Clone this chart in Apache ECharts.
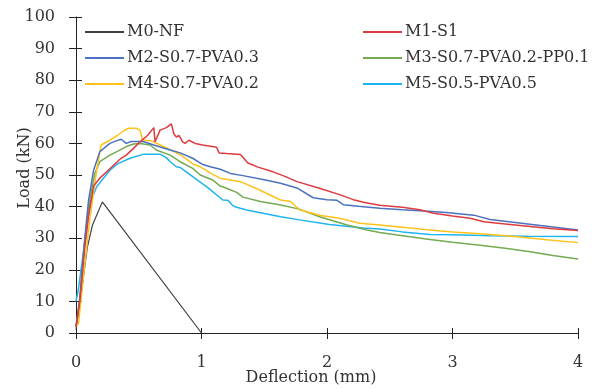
<!DOCTYPE html>
<html>
<head>
<meta charset="utf-8">
<script src="https://cdn.jsdelivr.net/npm/echarts@6/dist/echarts.min.js"></script>
<style>html,body{margin:0;padding:0;background:#fff}#c{width:611px;height:389px}</style>
</head>
<body>
<div id="c"></div>
<script>
const seriesNames = ["M0-NF","M1-S1","M2-S0.7-PVA0.3","M3-S0.7-PVA0.2-PP0.1","M4-S0.7-PVA0.2","M5-S0.5-PVA0.5"];
const xTicks = [0,1,2,3,4];
const yTicks = [0,10,20,30,40,50,60,70,80,90,100];

const M0 = [[0,1],[0.04,12],[0.09,27],[0.13,34],[0.21,41.5],[1.0,0]];
const M1 = [[0,2],[0.03,10],[0.07,27],[0.1,37],[0.14,46.5],[0.19,49],[0.27,52],[0.35,55],[0.4,56.3],[0.46,58.5],[0.51,60.5],[0.57,62.5],[0.62,65],[0.63,60.5],[0.67,64.2],[0.72,65],[0.76,66.2],[0.78,63],[0.8,62],[0.82,62.5],[0.85,60.5],[0.87,60],[0.9,61],[0.95,60],[1.01,59.5],[1.12,58.8],[1.14,57],[1.2,56.8],[1.31,56.5],[1.37,53.8],[1.45,52.5],[1.57,51],[1.67,49.5],[1.76,47.9],[1.94,45.8],[2.1,43.8],[2.21,42.2],[2.3,41.3],[2.42,40.4],[2.6,39.8],[2.74,39],[2.85,37.9],[3.0,37],[3.14,36.3],[3.25,35.2],[3.4,34.6],[3.6,33.8],[3.8,33],[4.0,32.4]];
const M2 = [[0,2],[0.03,11],[0.07,30],[0.1,42],[0.14,51.5],[0.19,57.4],[0.27,60],[0.32,60.8],[0.36,61.3],[0.4,60],[0.44,60.6],[0.5,60.6],[0.54,60.5],[0.62,59.5],[0.75,57.9],[0.83,57],[0.93,55.3],[1.01,53.3],[1.07,52.6],[1.15,51.8],[1.23,50.5],[1.33,49.8],[1.5,48.5],[1.63,47.4],[1.76,45.9],[1.89,42.8],[2.0,42.2],[2.08,42],[2.13,40.6],[2.25,40.1],[2.42,39.5],[2.6,39],[2.74,38.7],[2.95,38.1],[3.17,37.3],[3.3,35.9],[3.5,35],[3.7,34],[4.0,32.6]];
const M3 = [[0,2],[0.03,10],[0.07,29],[0.1,40],[0.15,50.5],[0.19,54.2],[0.27,56.3],[0.33,57.5],[0.4,59],[0.46,59.8],[0.51,60],[0.59,59.5],[0.64,57.9],[0.75,56.3],[0.83,54.2],[0.93,52.1],[0.99,50],[1.09,48.4],[1.15,46.5],[1.2,45.8],[1.28,44.5],[1.33,43],[1.47,41.6],[1.63,40.5],[1.78,39.2],[1.94,36.8],[2.16,34.2],[2.32,32.6],[2.42,31.8],[2.56,31],[2.82,29.6],[3.0,28.7],[3.22,27.8],[3.42,26.8],[3.62,25.7],[3.8,24.5],[4.0,23.4]];
const M4 = [[0,2],[0.02,3],[0.06,18],[0.11,36],[0.165,51.6],[0.2,59.5],[0.27,61],[0.33,62.5],[0.38,64],[0.42,64.8],[0.48,64.8],[0.51,64.2],[0.53,61],[0.6,60.8],[0.63,60.3],[0.75,58],[0.83,56.5],[0.93,53.5],[0.99,52.6],[1.09,50.2],[1.15,49],[1.31,47.9],[1.45,45.5],[1.63,42.1],[1.71,41.6],[1.78,39],[1.95,37.2],[2.1,36.3],[2.26,34.7],[2.42,34.2],[2.6,33.5],[2.82,32.6],[3.0,32],[3.22,31.4],[3.5,30.5],[3.75,29.5],[4.0,28.6]];
const M5 = [[0,10],[0.02,14],[0.06,26],[0.11,41],[0.165,46.3],[0.27,51.5],[0.33,53.5],[0.43,55.3],[0.54,56.6],[0.67,56.6],[0.72,55.5],[0.75,54.2],[0.8,52.6],[0.83,52.4],[0.93,49.5],[1.05,46],[1.17,42.1],[1.21,42],[1.25,40.3],[1.28,39.8],[1.36,38.9],[1.5,37.8],[1.63,36.8],[1.78,35.8],[2.02,34.3],[2.29,33.2],[2.42,32.9],[2.6,32],[2.82,31.2],[3.0,31.1],[3.3,30.8],[3.6,30.6],[4.0,30.5]];

const seriesData = [M0,M1,M2,M3,M4,M5];
const colors = ["#404040","#DD3B3E","#4A72C0","#74AA50","#FFC21A","#1EB4EE"];

const FONT = "DejaVu Serif";
const txtColor = "#333";
const axisColor = "#222";

const chart = echarts.init(document.getElementById('c'), null, {renderer:'canvas'});

function xAxisBase(inside, showLabel){
  return {
    type:'value', position:'bottom', min:xTicks[0], max:xTicks[xTicks.length-1], interval:1,
    axisLine:{show:!inside, onZero:false, lineStyle:{color:axisColor, width:1}},
    axisTick:{show:true, inside:inside, length:inside?5:6, lineStyle:{color:axisColor}},
    axisLabel:{show:showLabel, margin:22, color:txtColor, fontFamily:FONT, fontSize:16},
    splitLine:{show:false}
  };
}
function yAxisBase(inside, showLabel){
  return {
    type:'value', position:'left', min:yTicks[0], max:yTicks[yTicks.length-1], interval:10,
    axisLine:{show:!inside, onZero:false, lineStyle:{color:axisColor, width:1}},
    axisTick:{show:true, inside:inside, length:inside?6:7, lineStyle:{color:axisColor}},
    axisLabel:{show:showLabel, margin:21, color:txtColor, fontFamily:FONT, fontSize:16},
    splitLine:{show:false}
  };
}

const legendCommon = {
  orient:'vertical', padding:0, itemGap:8, itemWidth:39, itemHeight:2, icon:'rect',
  textStyle:{fontFamily:FONT, fontSize:16, color:txtColor, lineHeight:18, padding:[0,0,0,-2]}
};

chart.setOption({
  animation:false,
  backgroundColor:'#fff',
  color:colors,
  grid:{left:76, right:33, top:17, bottom:56, containLabel:false},
  xAxis:[xAxisBase(false,true), xAxisBase(true,false)],
  yAxis:[yAxisBase(false,true), yAxisBase(true,false)],
  legend:[
    Object.assign({left:85, top:23, data:[seriesNames[0],seriesNames[2],seriesNames[4]]}, legendCommon),
    Object.assign({left:363, top:23, data:[seriesNames[1],seriesNames[3],seriesNames[5]]}, legendCommon)
  ],
  graphic:[
    {type:'text', x:311, y:378, style:{text:'Deflection (mm)', font:'16px "DejaVu Serif"', fill:txtColor, textAlign:'center', textVerticalAlign:'middle'}},
    {type:'text', x:25, y:168, rotation:Math.PI/2, style:{text:'Load (kN)', font:'16px "DejaVu Serif"', fill:txtColor, textAlign:'center', textVerticalAlign:'middle'}}
  ],
  series: seriesNames.map((n,i)=>({
    name:n, type:'line', data:seriesData[i], showSymbol:false, symbol:'none',
    xAxisIndex:0, yAxisIndex:0,
    lineStyle:{width:i===0?1.2:1.5, color:colors[i]}, itemStyle:{color:colors[i]},
    z: [1,6,5,3,4,2][i]
  }))
});
</script>
</body>
</html>
